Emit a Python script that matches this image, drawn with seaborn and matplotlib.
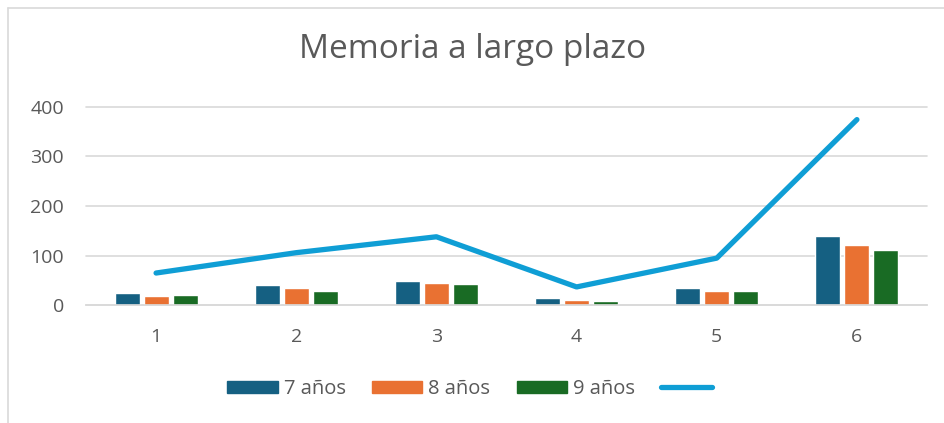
import pandas as pd
import matplotlib.pyplot as plt
import seaborn as sns
import numpy as np
from matplotlib.lines import Line2D

# data
grupos = ['1', '2', '3', '4', '5', '6']
series = ['7 años', '8 años', '9 años']
v7 = [24, 40, 49, 14, 34, 139]
v8 = [19, 34, 44, 11, 29, 121]
v9 = [20, 29, 43, 9, 29, 112]
total = [65, 106, 138, 37, 95, 374]

colores = ['#156082', '#E97132', '#196B24']
color_linea = '#0F9ED5'
gris = '#595959'

df = pd.DataFrame({
    'grupo': grupos * 3,
    'serie': np.repeat(series, len(grupos)),
    'valor': v7 + v8 + v9,
})

sns.set_theme(style='white')
plt.rcParams['font.family'] = ['Open Sans', 'DejaVu Sans']

fig = plt.figure(figsize=(9.45, 4.23), dpi=100)
ax = fig.add_axes([86 / 945, 1 - 305.3 / 423, 841 / 945, 198.6 / 423])

sns.barplot(data=df, x='grupo', y='valor', hue='serie', order=grupos,
            hue_order=series, palette=colores, width=0.62, gap=0.14,
            saturation=1, ax=ax, legend=False)

sns.lineplot(x=np.arange(len(grupos)), y=total, color=color_linea,
             linewidth=3.8, solid_capstyle='round', ax=ax, zorder=5)

ax.set_xlim(-0.5, len(grupos) - 0.5)
ax.set_ylim(0, 400)
ax.set_yticks([0, 100, 200, 300, 400])
ax.set_xlabel('')
ax.set_ylabel('')
ax.yaxis.grid(True, color='#D9D9D9', linewidth=1.2)
ax.set_axisbelow(True)
for s in ['top', 'right', 'left']:
    ax.spines[s].set_visible(False)
ax.spines['bottom'].set_color('#D9D9D9')
ax.spines['bottom'].set_linewidth(1.2)
ax.tick_params(axis='both', length=0, labelsize=14, colors=gris)
ax.tick_params(axis='x', pad=16)
ax.tick_params(axis='y', pad=16)
for line in ax.get_ygridlines():
    line.set_clip_on(False)

fig.text(0.5, 1 - 50 / 423, 'Memoria a largo plazo', ha='center', va='center',
         fontsize=24, color=gris)

handles = [plt.Rectangle((0, 0), 1, 1, color=c) for c in colores]
handles.append(Line2D([0], [0], color=color_linea, linewidth=3.8,
                      solid_capstyle='round'))
fig.legend(handles, series + [''], loc='center', ncol=4,
           bbox_to_anchor=(0.5, 1 - 389 / 423), frameon=False, fontsize=14.5,
           labelcolor=gris, handlelength=2.5, handleheight=0.6,
           handletextpad=0.3, columnspacing=1.3)

# chart border (top and left edges visible in the crop)
fig.add_artist(Line2D([8 / 945, 8 / 945], [0, 1 - 8 / 423], color='#D9D9D9', linewidth=1.2))
fig.add_artist(Line2D([8 / 945, 1], [1 - 8 / 423, 1 - 8 / 423], color='#D9D9D9', linewidth=1.2))

fig.savefig('out.png', dpi=100)
